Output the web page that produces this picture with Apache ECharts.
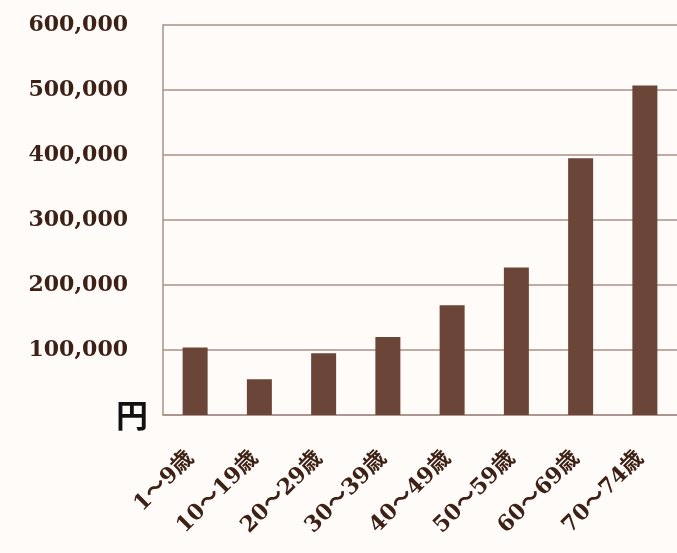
<!DOCTYPE html>
<html><head><meta charset="utf-8">
<script src="https://cdn.jsdelivr.net/npm/echarts@6/dist/echarts.min.js"></script>
<style>html,body{margin:0;padding:0;background:#fffbf8;}#c{width:677px;height:553px;}</style>
</head><body><div id="c"></div>
<script>
var categories = ['1〜9歳','10〜19歳','20〜29歳','30〜39歳','40〜49歳','50〜59歳','60〜69歳','70〜74歳'];
var values = [104000, 55000, 95000, 120000, 169000, 227000, 395000, 507000];
var yTicks = [0, 100000, 200000, 300000, 400000, 500000, 600000];
var zeroLabel = '円';

var chart = echarts.init(document.getElementById('c'));
chart.setOption({
  backgroundColor: '#fffbf8',
  animation: false,
  grid: {left: 163, right: -2, top: 25, bottom: 138, containLabel: false},
  xAxis: {
    type: 'category', data: categories,
    axisLine: {lineStyle: {color: '#a89088', width: 1.5}},
    axisTick: {show: false},
    axisLabel: {rotate: 45, margin: 36, interval: 0, color: '#3d2016',
      fontFamily: 'DejaVu Serif, Noto Sans CJK JP', fontWeight: 'bold', fontSize: 22,
      padding: [0, 6, 0, 0]}
  },
  yAxis: {
    type: 'value', min: yTicks[0], max: yTicks[yTicks.length-1], interval: 100000,
    axisLine: {show: true, lineStyle: {color: '#a89088', width: 1.5}},
    axisTick: {show: false},
    splitLine: {lineStyle: {color: '#a89088', width: 1.5}},
    axisLabel: {
      margin: 15,
      formatter: function (v) {
        if (v === 0) return '{z|' + zeroLabel + '}';
        return '{n|' + v.toLocaleString('en-US') + '}';
      },
      rich: {
        n: {color: '#3d2016', fontFamily: 'DejaVu Serif', fontWeight: 'bold', fontSize: 22, padding: [0, 20, 0, 0]},
        z: {color: '#111', fontFamily: 'Noto Sans CJK JP', fontWeight: 'bold', fontSize: 32, padding: [0, 0, 0, 0]}
      }
    }
  },
  series: [{
    type: 'bar', data: values, barWidth: 25,
    itemStyle: {color: '#6b4638'}
  }]
});
</script></body></html>
